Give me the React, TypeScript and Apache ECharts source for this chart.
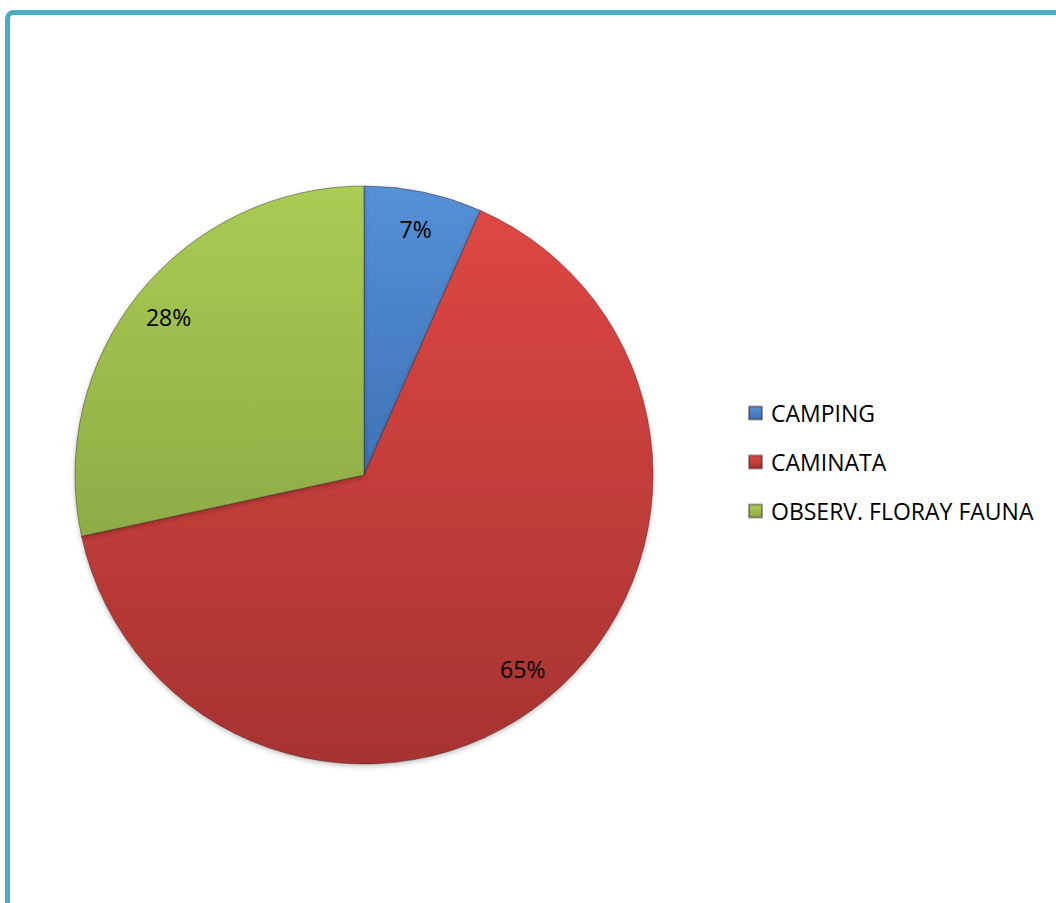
import React, { useEffect, useRef } from "react";
import * as echarts from "echarts";

const categories = ["CAMPING", "CAMINATA", "OBSERV. FLORAY FAUNA"];
const values = [6.6, 65, 28.4];
const topColors = ["#5590D6", "#DE4743", "#A9CC54"];
const bottomColors = ["#3F72B6", "#A63331", "#8EAC46"];
const FONT = "'Open Sans', Lato, sans-serif";

export default function App() {
  const ref = useRef<HTMLDivElement>(null);
  useEffect(() => {
    document.body.style.margin = "0";
    const chart = echarts.init(ref.current!, null, { renderer: "svg" });
    const grad = (i: number) =>
      new echarts.graphic.LinearGradient(0, 0, 0, 1, [
        { offset: 0, color: topColors[i] },
        { offset: 1, color: bottomColors[i] },
      ]);
    const data = categories.map((name, i) => ({
      name,
      value: values[i],
      itemStyle: { color: grad(i) },
    }));
    const labelData = categories.map((name, i) => ({ name, value: values[i] }));
    chart.setOption({
      animation: false,
      backgroundColor: "#ffffff",
      graphic: [
        {
          type: "rect",
          shape: { x: 7.5, y: 12.5, width: 1200, height: 1200, r: 6 },
          style: { fill: "none", stroke: "#4BACC6", lineWidth: 5 },
          z: 10,
        },
      ],
      legend: {
        orient: "vertical",
        left: 748,
        top: 401,
        padding: 0,
        itemWidth: 13,
        itemHeight: 13,
        itemGap: 25,
        icon: "rect",
        data: categories,
        selectedMode: false,
        textStyle: {
          fontFamily: FONT,
          fontSize: 23,
          lineHeight: 24,
          color: "#000000",
          padding: [0, 0, 0, 4],
        },
      },
      series: [
        {
          type: "pie",
          center: [364, 475],
          radius: [0, 289],
          startAngle: 90,
          clockwise: true,
          label: { show: false },
          labelLine: { show: false },
          silent: true,
          itemStyle: {
            borderColor: "rgba(60,30,30,0.45)",
            borderWidth: 1,
            shadowBlur: 5,
            shadowColor: "rgba(0,0,0,0.25)",
            shadowOffsetY: 2,
          },
          data,
        },
        {
          type: "pie",
          center: [364, 475],
          radius: [206, 290],
          startAngle: 90,
          clockwise: true,
          silent: true,
          itemStyle: { color: "transparent", borderWidth: 0 },
          labelLine: { show: false },
          label: {
            show: true,
            position: "inside",
            formatter: (p: any) => Math.round(p.percent) + "%",
            fontFamily: FONT,
            fontSize: 23,
            color: "#000000",
          },
          data: labelData,
        },
      ],
    });
    return () => chart.dispose();
  }, []);
  return <div ref={ref} style={{ width: 1056, height: 903 }} />;
}
